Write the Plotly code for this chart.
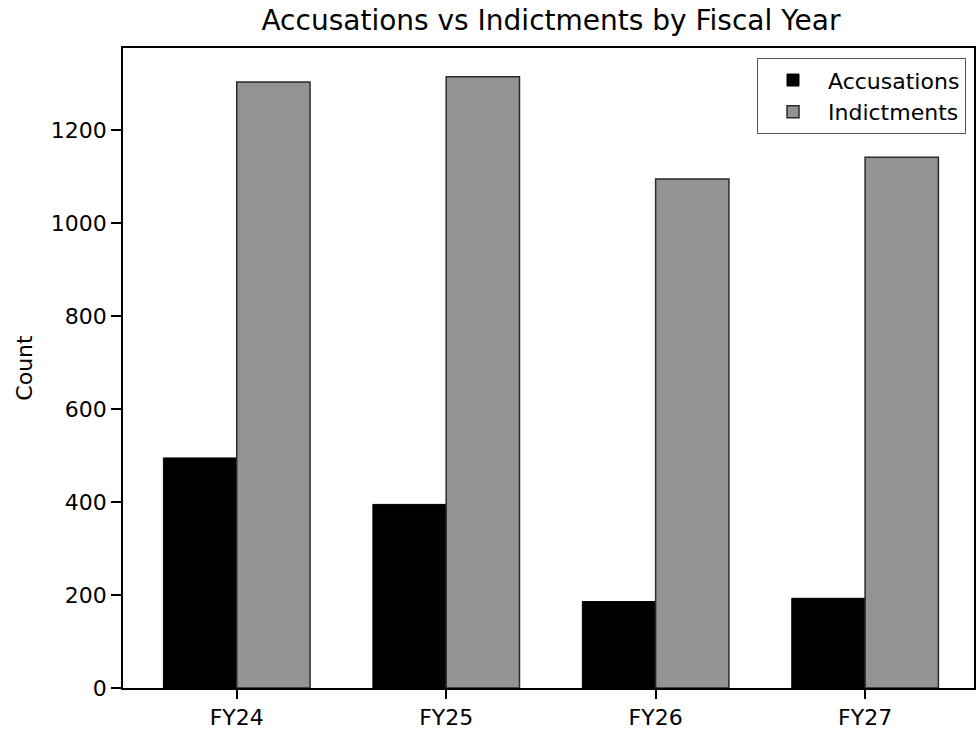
import plotly.graph_objects as go

# Fiscal years and counts per year
years = ["FY24", "FY25", "FY26", "FY27"]
accusations = [495, 395, 186, 193]
indictments = [1304, 1315, 1095, 1142]
y_ticks = [0, 200, 400, 600, 800, 1000, 1200]

FONT = "DejaVu Sans"

fig = go.Figure()
fig.add_trace(go.Bar(
    x=years, y=accusations, name="Accusations",
    marker=dict(color="#000000", line=dict(color="#000000", width=1)),
))
fig.add_trace(go.Bar(
    x=years, y=indictments, name="Indictments",
    marker=dict(color="#939393", line=dict(color="#2a2a2a", width=1.5)),
))

fig.update_layout(
    width=976, height=730,
    margin=dict(l=123, r=0, t=48, b=41),
    paper_bgcolor="white", plot_bgcolor="white",
    barmode="group", bargap=0.3, bargroupgap=0,
    font=dict(family=FONT, color="black", size=22),
    title=dict(
        text="Accusations vs Indictments by Fiscal Year",
        font=dict(family=FONT, size=28, color="black"),
        x=0.5645, xref="container", xanchor="center",
        y=0.972, yref="container", yanchor="middle",
    ),
    legend=dict(
        x=0.9906, y=0.984, xanchor="right", yanchor="top",
        bgcolor="white", bordercolor="#555555", borderwidth=1,
        font=dict(family=FONT, size=22, color="black"),
        itemwidth=60, tracegroupgap=0,
    ),
    showlegend=True,
)

fig.update_xaxes(
    type="category", range=[-0.543, 3.52],
    showline=True, linecolor="black", linewidth=1.5, mirror=True,
    ticks="outside", ticklen=9, tickwidth=1.5, tickcolor="black",
    showgrid=False, zeroline=False,
    tickfont=dict(family=FONT, size=22, color="black"),
)
fig.update_yaxes(
    range=[0, 1377],
    tickvals=y_ticks,
    showline=True, linecolor="black", linewidth=1.5, mirror=True,
    ticks="outside", ticklen=10, tickwidth=1.5, tickcolor="black",
    showgrid=False, zeroline=False,
    tickfont=dict(family=FONT, size=22, color="black"),
    title=dict(text="Count", font=dict(family=FONT, size=22, color="black"), standoff=12),
)

fig.write_html("out.html")
